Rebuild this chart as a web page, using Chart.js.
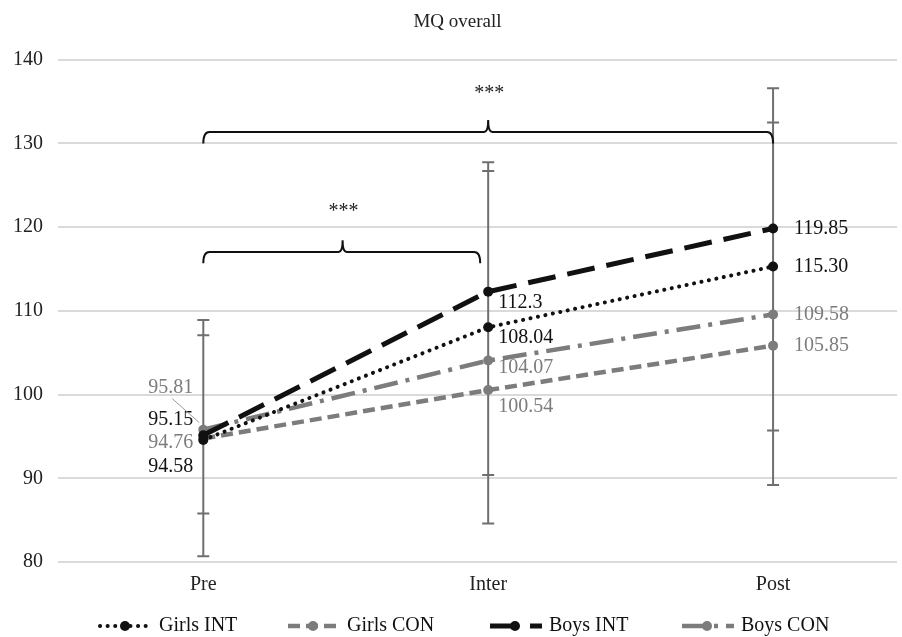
<!DOCTYPE html>
<html>
<head>
<meta charset="utf-8">
<title>MQ overall</title>
<script src="https://cdn.jsdelivr.net/npm/chart.js@4.4.1/dist/chart.umd.min.js"></script>
<style>
  html, body { margin: 0; padding: 0; background: #fff; }
</style>
</head>
<body>
<canvas id="mqChart" width="902" height="637"></canvas>
<script>
// ---- data ----
var categories = ["Pre", "Inter", "Post"];

var girlsInt = [94.58, 108.04, 115.30];
var girlsCon = [94.76, 100.54, 105.85];
var boysInt  = [95.15, 112.3, 119.85];
var boysCon  = [95.81, 104.07, 109.58];

// labels as printed in the figure
var girlsIntLabels = ["94.58", "108.04", "115.30"];
var girlsConLabels = ["94.76", "100.54", "105.85"];
var boysIntLabels  = ["95.15", "112.3", "119.85"];
var boysConLabels  = ["95.81", "104.07", "109.58"];

// error bars (two overlapping ranges per time point)
var errOuterLow  = [80.7, 84.6, 89.2];
var errOuterHigh = [108.9, 127.75, 136.6];
var errInnerLow  = [85.8, 90.4, 95.7];
var errInnerHigh = [107.1, 126.7, 132.5];

var yMin = 80, yMax = 140, yStep = 10;

// significance brackets: from/to are category indexes
var brackets = [
  { from: 0, to: 2, mid: 1, y: 131.38, end: 130.0, top: 132.8, starY: 136.0, text: "***" },
  { from: 0, to: 0.972, mid: 0.489, y: 117.05, end: 115.7, top: 118.45, starY: 121.9, text: "***" }
];

// ---- styles ----
var SERIF = "'Liberation Serif', 'Times New Roman', serif";
var BLACK = "#111111";
var GREY = "#7c7c7c";

//- label offsets per point [dx, dy], right aligned when dx < 0
var offGirlsInt = [[-10, 27], [10, 10], [21, 0]];
var offGirlsCon = [[-10, 4], [10, 17], [21, 0]];
var offBoysInt  = [[-10, -15], [10, 11], [21, 0]];
var offBoysCon  = [[-10, -42], [10, 7], [21, 0]];

function pts(values) {
  return values.map(function (v, i) { return { x: i, y: v }; });
}

var datasets = [
  {
    label: "Girls INT", data: pts(girlsInt), labels: girlsIntLabels, offsets: offGirlsInt,
    borderColor: BLACK, pointBackgroundColor: BLACK, textColor: BLACK,
    borderWidth: 4, borderDash: [0.1, 7.5], borderCapStyle: "round", order: 1
  },
  {
    label: "Girls CON", data: pts(girlsCon), labels: girlsConLabels, offsets: offGirlsCon,
    borderColor: GREY, pointBackgroundColor: GREY, textColor: GREY,
    borderWidth: 4.5, borderDash: [12, 6], borderCapStyle: "butt", order: 3
  },
  {
    label: "Boys INT", data: pts(boysInt), labels: boysIntLabels, offsets: offBoysInt,
    borderColor: BLACK, pointBackgroundColor: BLACK, textColor: BLACK,
    borderWidth: 5, borderDash: [28, 12], borderCapStyle: "butt", order: 0
  },
  {
    label: "Boys CON", data: pts(boysCon), labels: boysConLabels, offsets: offBoysCon,
    borderColor: GREY, pointBackgroundColor: GREY, textColor: GREY,
    borderWidth: 4.5, borderDash: [24, 8, 4, 8], borderCapStyle: "butt", order: 2,
    leader: { index: 0, from: [-31, -31], to: [-4, -7] }
  }
];

datasets.forEach(function (d) {
  d.pointRadius = 5;
  d.pointBorderWidth = 0;
  d.pointHoverRadius = 5;
  d.fill = false;
  d.tension = 0;
});

// ---- plugins ----
var errorBars = {
  id: "errorBars",
  beforeDatasetsDraw: function (chart) {
    var ctx = chart.ctx, xs = chart.scales.x, ys = chart.scales.y;
    ctx.save();
    ctx.strokeStyle = "#6f6f6f";
    ctx.lineWidth = 2;
    var cap = 6;
    categories.forEach(function (c, i) {
      var x = xs.getPixelForValue(i);
      var yl = ys.getPixelForValue(errOuterLow[i]);
      var yh = ys.getPixelForValue(errOuterHigh[i]);
      ctx.beginPath();
      ctx.moveTo(x, yl); ctx.lineTo(x, yh);
      [errOuterLow[i], errOuterHigh[i], errInnerLow[i], errInnerHigh[i]].forEach(function (v) {
        var y = ys.getPixelForValue(v);
        ctx.moveTo(x - cap, y); ctx.lineTo(x + cap, y);
      });
      ctx.stroke();
    });
    ctx.restore();
  }
};

var brackets_ = {
  id: "brackets",
  afterDatasetsDraw: function (chart) {
    var ctx = chart.ctx, xs = chart.scales.x, ys = chart.scales.y;
    ctx.save();
    ctx.strokeStyle = BLACK;
    ctx.lineWidth = 2;
    ctx.fillStyle = "#222";
    ctx.font = "20px " + SERIF;
    ctx.textAlign = "center";
    ctx.textBaseline = "middle";
    brackets.forEach(function (b) {
      var x1 = xs.getPixelForValue(b.from), x2 = xs.getPixelForValue(b.to);
      var xm = xs.getPixelForValue(b.mid);
      var y = ys.getPixelForValue(b.y), ye = ys.getPixelForValue(b.end), yt = ys.getPixelForValue(b.top);
      ctx.beginPath();
      ctx.moveTo(x1, ye);
      ctx.quadraticCurveTo(x1, y, x1 + 6, y);
      ctx.lineTo(xm - 4, y);
      ctx.quadraticCurveTo(xm, y, xm, yt);
      ctx.quadraticCurveTo(xm, y, xm + 4, y);
      ctx.lineTo(x2 - 6, y);
      ctx.quadraticCurveTo(x2, y, x2, ye);
      ctx.stroke();
      ctx.fillText(b.text, xm + 1, ys.getPixelForValue(b.starY));
    });
    ctx.restore();
  }
};

var pointLabels = {
  id: "pointLabels",
  afterDatasetsDraw: function (chart) {
    var ctx = chart.ctx;
    ctx.save();
    ctx.font = "20px " + SERIF;
    ctx.textBaseline = "middle";
    chart.data.datasets.forEach(function (d, di) {
      var meta = chart.getDatasetMeta(di);
      meta.data.forEach(function (p, i) {
        var off = d.offsets[i];
        ctx.fillStyle = d.textColor;
        ctx.textAlign = off[0] < 0 ? "right" : "left";
        ctx.fillText(d.labels[i], p.x + off[0], p.y + off[1]);
      });
      if (d.leader) {
        var lp = meta.data[d.leader.index];
        ctx.strokeStyle = "#9a9a9a";
        ctx.lineWidth = 1;
        ctx.beginPath();
        ctx.moveTo(lp.x + d.leader.from[0], lp.y + d.leader.from[1]);
        ctx.lineTo(lp.x + d.leader.to[0], lp.y + d.leader.to[1]);
        ctx.stroke();
      }
    });
    ctx.restore();
  }
};

// legend drawn by hand so the spacing follows the figure
var legendX = [100, 288, 490, 682];
var legendOrder = [0, 1, 2, 3];
var bottomLegend = {
  id: "bottomLegend",
  afterDraw: function (chart) {
    var ctx = chart.ctx;
    var y = chart.height - 11;
    ctx.save();
    legendOrder.forEach(function (di, k) {
      var d = chart.data.datasets[di];
      var x0 = legendX[k], w = 52;
      ctx.strokeStyle = d.borderColor;
      ctx.lineWidth = d.borderWidth;
      ctx.lineCap = d.borderCapStyle;
      ctx.setLineDash(d.borderDash);
      ctx.beginPath();
      ctx.moveTo(x0, y); ctx.lineTo(x0 + w, y);
      ctx.stroke();
      ctx.setLineDash([]);
      ctx.fillStyle = d.borderColor;
      ctx.beginPath();
      ctx.arc(x0 + 25, y, 5, 0, Math.PI * 2);
      ctx.fill();
      ctx.fillStyle = BLACK;
      ctx.font = "20px " + SERIF;
      ctx.textAlign = "left";
      ctx.textBaseline = "middle";
      ctx.fillText(d.label, x0 + w + 7, y);
    });
    ctx.restore();
  }
};

// ---- chart ----
var ctx = document.getElementById("mqChart").getContext("2d");
var mqChart = new Chart(ctx, {
  type: "line",
  data: { datasets: datasets },
  options: {
    responsive: false,
    animation: false,
    layout: { padding: { left: 13, right: 0, top: 0, bottom: 40 } },
    plugins: {
      legend: { display: false },
      tooltip: { enabled: false },
      title: {
        display: true,
        text: "MQ overall",
        color: "#222",
        font: { family: SERIF, size: 19, weight: "normal" },
        padding: { top: 11, bottom: 26 }
      }
    },
    scales: {
      x: {
        type: "linear",
        min: -0.51,
        max: 2.435,
        grid: { display: false, drawTicks: false },
        border: { display: false },
        afterBuildTicks: function (axis) {
          axis.ticks = categories.map(function (c, i) { return { value: i }; });
        },
        afterFit: function (axis) { axis.height = 35; },
        ticks: {
          autoSkip: false,
          maxRotation: 0,
          padding: 11,
          color: "#222",
          font: { family: SERIF, size: 20 },
          callback: function (v) { return categories[v]; }
        }
      },
      y: {
        min: yMin,
        max: yMax,
        grid: { color: "#dadada", lineWidth: 2, drawTicks: false },
        border: { display: false },
        afterFit: function (axis) { axis.width = 45; },
        ticks: {
          stepSize: yStep,
          padding: 15,
          color: "#222",
          font: { family: SERIF, size: 20 }
        }
      }
    }
  },
  plugins: [errorBars, brackets_, pointLabels, bottomLegend]
});
</script>
</body>
</html>
